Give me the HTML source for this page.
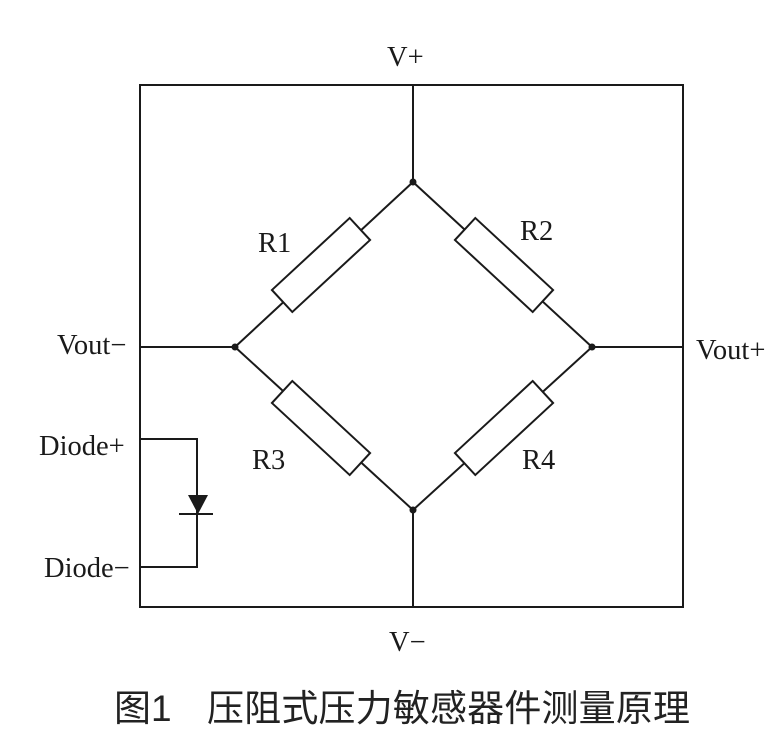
<!DOCTYPE html>
<html><head><meta charset="utf-8"><style>
html,body{margin:0;padding:0;background:#fff;}
svg{display:block;}
.t{font-family:"Liberation Serif",serif;font-size:28.5px;fill:#1a1a1a;}
.c{font-family:"Liberation Sans","Noto Sans CJK SC",sans-serif;font-size:37px;fill:#222;}
</style></head><body>
<svg width="783" height="743" viewBox="0 0 783 743" xmlns="http://www.w3.org/2000/svg">
<g stroke="#1a1a1a" stroke-width="2" fill="none">
<rect x="140" y="85" width="543" height="522"/>
<line x1="413" y1="85" x2="413" y2="182"/>
<line x1="413" y1="510" x2="413" y2="607"/>
<line x1="140" y1="347" x2="235" y2="347"/>
<line x1="592" y1="347" x2="683" y2="347"/>
<polyline points="235,347 413,182 592,347 413,510 235,347"/>
<polyline points="140,439 197,439 197,567 140,567"/>
<line x1="179" y1="514" x2="213" y2="514"/>
</g>
<g fill="#fff" stroke="#1a1a1a" stroke-width="2">
<rect x="-53" y="-15" width="106" height="30" transform="translate(321,265) rotate(-42.8)"/>
<rect x="-53" y="-15" width="106" height="30" transform="translate(504,265) rotate(42.8)"/>
<rect x="-53" y="-15" width="106" height="30" transform="translate(321,428) rotate(42.8)"/>
<rect x="-53" y="-15" width="106" height="30" transform="translate(504,428) rotate(-42.8)"/>
</g>
<polygon points="188,495 208,495 198,514" fill="#1a1a1a"/>
<g fill="#1a1a1a">
<circle cx="413" cy="182" r="3.5"/><circle cx="235" cy="347" r="3.5"/>
<circle cx="592" cy="347" r="3.5"/><circle cx="413" cy="510" r="3.5"/>
</g>
<text class="t" x="387" y="66">V+</text>
<text class="t" x="389" y="651">V−</text>
<text class="t" x="57" y="354">Vout−</text>
<text class="t" x="696" y="359">Vout+</text>
<text class="t" x="39" y="455">Diode+</text>
<text class="t" x="44" y="577">Diode−</text>
<text class="t" x="258" y="252">R1</text>
<text class="t" x="520" y="240">R2</text>
<text class="t" x="252" y="469">R3</text>
<text class="t" x="522" y="469">R4</text>
<text class="c" x="114" y="721">图1</text>
<text class="c" x="207" y="721" textLength="483" lengthAdjust="spacing">压阻式压力敏感器件测量原理</text>
</svg>
</body></html>
